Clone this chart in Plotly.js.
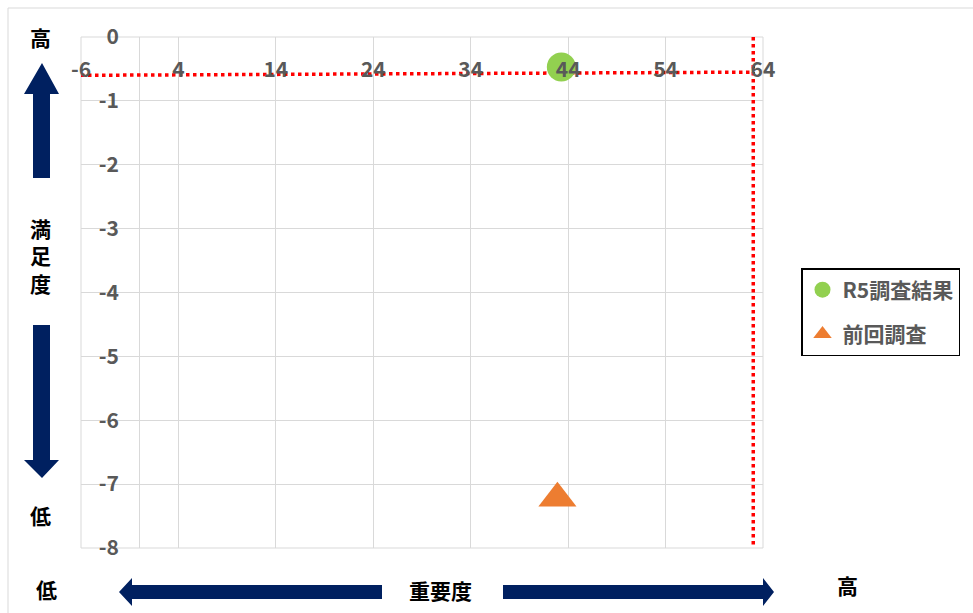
<!DOCTYPE html>
<html><head><meta charset="utf-8">
<script src="https://cdn.plot.ly/plotly-3.0.1.min.js"></script>
<style>html,body{margin:0;padding:0;background:#fff}#chart{width:973px;height:613px}</style>
</head><body><div id="chart"></div>
<script>
// ---- data ----
const seriesNames = ['R5調査結果', '前回調査'];
const r5Importance = [43.3];
const r5Satisfaction = [-0.47];
const prevImportance = [42.9];
const prevSatisfaction = [-7.22];
const avgSatLineX = [-6, 63];
const avgSatLineY = [-0.6, -0.55];
const avgImpLineX = [63, 63];
const avgImpLineY = [0, -8];
const xTickVals = [-6, 4, 14, 24, 34, 44, 54, 64];
const xTickLabels = ['-6', '4', '14', '24', '34', '44', '54', '64'];
const yTickVals = [0, -1, -2, -3, -4, -5, -6, -7, -8];
const yTickLabels = ['0', '-1', '-2', '-3', '-4', '-5', '-6', '-7', '-8'];
const xRange = [-6, 64];
const yRange = [-8, 0];

// ---- layout helpers (pixel -> paper) ----
const W = 973, H = 613, L = 81, R = 763, T = 37, B = 548;
const px = x => (x - L) / (R - L);
const py = y => (B - y) / (B - T);
const navy = '#002060';
function poly(pts) {
  return 'M' + pts.map(p => px(p[0]) + ',' + py(p[1])).join('L') + 'Z';
}
const shapes = [
  {type:'line', xref:'paper', yref:'paper', x0:px(8), x1:px(973), y0:py(8), y1:py(8), line:{color:'#d9d9d9', width:1}},
  {type:'line', xref:'paper', yref:'paper', x0:px(8), x1:px(8), y0:py(8), y1:py(613), line:{color:'#d9d9d9', width:1}},
  {type:'rect', xref:'paper', yref:'paper', x0:0, x1:1, y0:0, y1:1, line:{color:'#d9d9d9', width:1}, layer:'below'},
  {type:'path', xref:'paper', yref:'paper', fillcolor:navy, line:{width:0},
   path: poly([[42,63],[59,94],[50,94],[50,178],[33,178],[33,94],[24,94]])},
  {type:'path', xref:'paper', yref:'paper', fillcolor:navy, line:{width:0},
   path: poly([[33,325],[50,325],[50,460],[59,460],[42,478],[24,460],[33,460]])},
  {type:'path', xref:'paper', yref:'paper', fillcolor:navy, line:{width:0},
   path: poly([[119,592],[132,578],[132,585],[382,585],[382,599],[132,599],[132,606]])},
  {type:'path', xref:'paper', yref:'paper', fillcolor:navy, line:{width:0},
   path: poly([[503,585],[763,585],[763,578],[774,592],[763,606],[763,599],[503,599]])}
];
const txtFont = {family:'Noto Sans CJK JP, Noto Sans', size:21, color:'#000', weight:'bold'};
function ann(text, x, y) {
  return {text:text, xref:'paper', yref:'paper', x:px(x), y:py(y), xanchor:'center', yanchor:'middle', showarrow:false, font:txtFont};
}
const annotations = [
  ann('高', 40, 37),
  ann('満<br>足<br>度', 40, 255),
  ann('低', 40, 515),
  ann('低', 46, 589),
  ann('重要度', 440, 590),
  ann('高', 848, 585)
];

const tickFont = {family:'Noto Sans CJK JP, Noto Sans', size:21, color:'#595959', weight:'bold'};

const traces = [
  {x: avgSatLineX, y: avgSatLineY, mode:'lines', line:{color:'#FF0000', width:3.5, dash:'dot'}, showlegend:false, hoverinfo:'skip'},
  {x: avgImpLineX, y: avgImpLineY, mode:'lines', line:{color:'#FF0000', width:3.5, dash:'dot'}, showlegend:false, hoverinfo:'skip'},
  {x: r5Importance, y: r5Satisfaction, mode:'markers', name: seriesNames[0], legendgroup:'a',
   marker:{symbol:'circle', size:29, color:'#92D050'}},
  {x: prevImportance, y: prevSatisfaction, mode:'markers', name: seriesNames[1], legendgroup:'b',
   marker:{symbol:'triangle-up', size:33, color:'#ED7D31'}}
];

const layout = {
  width: W, height: H,
  margin: {l: L, r: W - R, t: T, b: H - B, pad: 0, autoexpand: false},
  paper_bgcolor:'#fff', plot_bgcolor:'#fff',
  showlegend: true,
  legend: {x: px(801), y: py(268), xanchor:'left', yanchor:'top', bgcolor:'#fff',
           bordercolor:'#000', borderwidth:1.5, font:{family:'Noto Sans CJK JP', size:21, color:'#595959', weight:'bold'},
           itemsizing:'trace', tracegroupgap: 14, traceorder:'grouped'},
  xaxis: {range: xRange, tickmode:'array', tickvals: xTickVals, ticktext: xTickLabels,
          showgrid:true, gridcolor:'#d9d9d9', gridwidth:1,
          zeroline:true, zerolinecolor:'#d9d9d9', zerolinewidth:1,
          showline:false, ticks:'', anchor:'free', position: py(55),
          tickfont: tickFont, fixedrange:true, automargin:false},
  yaxis: {range: yRange, tickmode:'array', tickvals: yTickVals, ticktext: yTickLabels,
          showgrid:true, gridcolor:'#d9d9d9', gridwidth:1,
          zeroline:false, showline:false, ticks:'', anchor:'free', position: px(119),
          tickfont: tickFont, fixedrange:true, automargin:false},
  shapes: shapes,
  annotations: annotations
};
Plotly.newPlot('chart', traces, layout, {staticPlot:true});
</script></body></html>
